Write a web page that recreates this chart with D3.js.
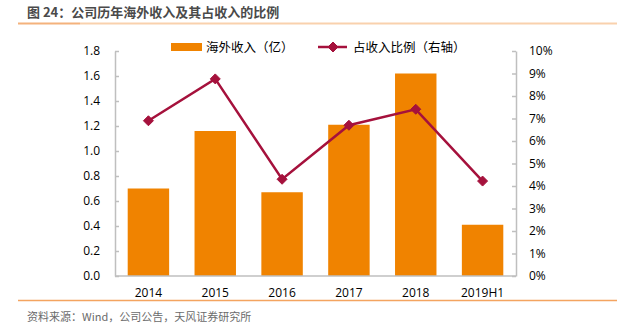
<!DOCTYPE html>
<html><head><meta charset="utf-8">
<script src="https://cdn.jsdelivr.net/npm/d3@7"></script>
<style>body{margin:0;background:#fff}svg{display:block}</style>
</head><body>
<script>
const categories = ["2014","2015","2016","2017","2018","2019H1"];
const overseasRevenue = [0.70, 1.16, 0.67, 1.21, 1.62, 0.41];
const revenueShare = [6.90, 8.76, 4.30, 6.70, 7.41, 4.22];
const leftTicks = [0,0.2,0.4,0.6,0.8,1.0,1.2,1.4,1.6,1.8];
const rightTicks = [0,1,2,3,4,5,6,7,8,9,10];
const title = "图 24：公司历年海外收入及其占收入的比例";
const source = "资料来源：Wind，公司公告，天风证券研究所";
const legendLabels = ["海外收入（亿）","占收入比例（右轴）"];

const W=635,H=328;
const svg=d3.select("body").append("svg").attr("width",W).attr("height",H);
const font="'Noto Sans CJK SC','Noto Sans',sans-serif";
const numFont="'Open Sans','Noto Sans',sans-serif";
const barColor="#f08300", lineColor="#a5113c", axisColor="#bfbfbf";

svg.append("text").attr("x",27).attr("y",17).text(title)
  .attr("font-family",font).attr("font-size",13).attr("font-weight","bold").attr("fill","#4a4a4a");
svg.append("line").attr("x1",18).attr("x2",80).attr("y1",23.5).attr("y2",23.5).attr("stroke","#f4b27c").attr("stroke-width",2);
svg.append("line").attr("x1",80).attr("x2",617).attr("y1",23.5).attr("y2",23.5).attr("stroke","#f9d1ad").attr("stroke-width",2);
svg.append("line").attr("x1",18).attr("x2",617).attr("y1",300.5).attr("y2",300.5).attr("stroke","#f4a460").attr("stroke-width",1.5);
svg.append("text").attr("x",27).attr("y",321).text(source)
  .attr("font-family",font).attr("font-size",11).attr("fill","#6b6b6b");

const x0=115,x1=516,yTop=51,yBot=276;
const x=d3.scaleBand().domain(categories).range([x0,x1]).paddingInner(0.38).paddingOuter(0.19);
const yL=d3.scaleLinear().domain([0,1.8]).range([yBot,yTop]);
const yR=d3.scaleLinear().domain([0,10]).range([yBot,yTop]);

svg.append("g").selectAll("rect").data(categories).join("rect")
  .attr("x",d=>x(d)).attr("width",x.bandwidth())
  .attr("y",(d,i)=>yL(overseasRevenue[i])).attr("height",(d,i)=>yBot-yL(overseasRevenue[i]))
  .attr("fill",barColor);

const gl=svg.append("g").attr("transform",`translate(${x0},0)`)
  .call(d3.axisLeft(yL).tickValues(leftTicks).tickFormat(d3.format(".1f")).tickSizeInner(-4).tickSizeOuter(0).tickPadding(15));
const gr=svg.append("g").attr("transform",`translate(${x1},0)`)
  .call(d3.axisRight(yR).tickValues(rightTicks).tickFormat(d=>d+"%").tickSizeInner(-4).tickSizeOuter(0).tickPadding(13));
const gb=svg.append("g").attr("transform",`translate(0,${yBot})`)
  .call(d3.axisBottom(x).tickSize(0).tickPadding(12));
[gl,gr,gb].forEach(g=>{
  g.selectAll("path,line").attr("stroke",axisColor).attr("stroke-width",1.5);
  g.selectAll("text").attr("font-family",numFont).attr("font-size",12).attr("fill","#000");
});
gb.select("path").attr("d",`M${x0},0H${x1}`);

const cx=d=>x(d)+x.bandwidth()/2;
svg.append("path").datum(categories)
  .attr("d",d3.line().x(d=>cx(d)).y((d,i)=>yR(revenueShare[i])))
  .attr("fill","none").attr("stroke",lineColor).attr("stroke-width",2.5);
const diamond="M0,-5L5,0L0,5L-5,0Z";
svg.append("g").selectAll("path").data(categories).join("path")
  .attr("transform",(d,i)=>`translate(${cx(d)},${yR(revenueShare[i])})`)
  .attr("d",diamond).attr("fill",lineColor).attr("stroke",lineColor).attr("stroke-linejoin","round");

svg.append("rect").attr("x",171).attr("y",43).attr("width",31).attr("height",8).attr("fill",barColor);
svg.append("text").attr("x",206).attr("y",51.5).text(legendLabels[0])
  .attr("font-family",font).attr("font-size",12.5).attr("fill","#000");
svg.append("line").attr("x1",318).attr("x2",347).attr("y1",47).attr("y2",47).attr("stroke",lineColor).attr("stroke-width",2.5);
svg.append("path").attr("transform","translate(333,47)").attr("d",diamond).attr("fill",lineColor).attr("stroke",lineColor).attr("stroke-linejoin","round");
svg.append("text").attr("x",353).attr("y",51.5).text(legendLabels[1])
  .attr("font-family",font).attr("font-size",12.5).attr("fill","#000");
</script>
</body></html>
